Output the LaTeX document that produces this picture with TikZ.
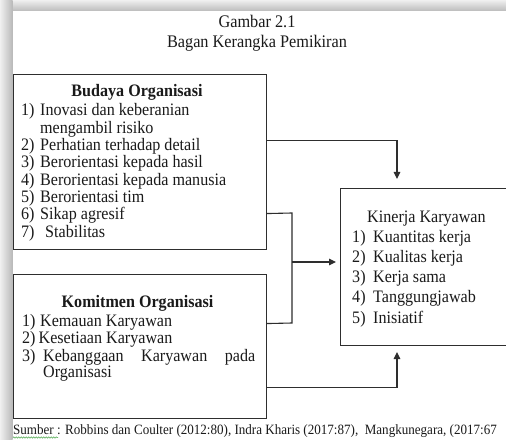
\documentclass[tikz,border=0pt]{standalone}
\usepackage{fontspec}
\setmainfont{Liberation Serif}[FakeStretch=0.92]
\usetikzlibrary{arrows.meta,decorations.pathmorphing}
\definecolor{linec}{HTML}{2E2E2E}
\definecolor{txtc}{HTML}{1A1A1A}
\definecolor{spell}{HTML}{6FB86F}
\begin{document}
\begin{tikzpicture}[x=1bp,y=-1bp,
  box/.style={draw=linec, line width=1.1bp, fill=white, inner sep=0, anchor=north west},
  lt/.style={anchor=base west, inner sep=0, text=txtc, font=\fontsize{17.5bp}{20bp}\selectfont},
  hd/.style={anchor=base, inner sep=0, text=txtc, font=\fontsize{17.5bp}{20bp}\selectfont\bfseries},
  ttl/.style={anchor=base, inner sep=0, text=txtc, font=\fontsize{17.7bp}{20bp}\selectfont},
  foot/.style={anchor=base west, inner sep=0, text=txtc, font=\fontsize{14.2bp}{16bp}\selectfont},
  conn/.style={draw=linec, line width=1.1bp},
  arr/.style={conn, -{Triangle[length=7bp,width=6.5bp]}}
]
\clip (0,0) rectangle (506,440);
% page shadow
\fill[white] (0,0) rectangle (506,440);
\shade[top color=gray!12, bottom color=gray!55] (0,0) rectangle (506,11.5);
\shade[left color=gray!12, right color=gray!55] (0,0) rectangle (12.5,440);
\fill[white] (12.5,11.5) rectangle (520,450);

% title
\node[ttl] (g1) at (257,28) {Gambar 2.1};
\node[ttl] (g2) at (257,48) {Bagan Kerangka Pemikiran};

% boxes
\node[box, minimum width=253.5bp, minimum height=175bp] (b1) at (12.5,74) {};
\node[box, minimum width=253.5bp, minimum height=144bp] (b2) at (12.5,274) {};
\node[box, minimum width=180bp, minimum height=157bp] (b3) at (340,188) {};

% box 1 text
\node[hd] (h1) at (137,97) {Budaya Organisasi};
\node[lt] (a1n) at (21,116) {1)};
\node[lt] (a1t) at (40,116) {Inovasi dan keberanian};
\node[lt] (a1u) at (40,133.3) {mengambil risiko};
\node[lt] (a2n) at (21,150.6) {2)};
\node[lt] (a2t) at (40,150.6) {Perhatian terhadap detail};
\node[lt] (a3n) at (21,167.9) {3)};
\node[lt] (a3t) at (40,167.9) {Berorientasi kepada hasil};
\node[lt] (a4n) at (21,185.2) {4)};
\node[lt] (a4t) at (40,185.2) {Berorientasi kepada manusia};
\node[lt] (a5n) at (21,202.5) {5)};
\node[lt] (a5t) at (40,202.5) {Berorientasi tim};
\node[lt] (a6n) at (21,219.8) {6)};
\node[lt] (a6t) at (40,219.8) {Sikap agresif};
\node[lt] (a7n) at (21,237.1) {7)};
\node[lt] (a7t) at (45,237.1) {Stabilitas};

% box 2 text
\node[hd] (h2) at (137.5,307) {Komitmen Organisasi};
\node[lt] (k1n) at (22,326) {1)};
\node[lt] (k1t) at (40,326) {Kemauan Karyawan};
\node[lt] (k2n) at (22,343.5) {2)};
\node[lt] (k2t) at (38.5,343.5) {Kesetiaan Karyawan};
\node[lt] (k3n) at (22,361) {3)};
\node[lt] (k3t) at (43,361) {\makebox[212bp][s]{Kebanggaan Karyawan pada}};
\node[lt] (k3u) at (43,377) {Organisasi};

% box 3 text
\node[lt] (h3) at (367,223) {Kinerja Karyawan};
\node[lt] (c1n) at (352,242.3) {1)};
\node[lt] (c1t) at (373,242.3) {Kuantitas kerja};
\node[lt] (c2n) at (352,262.3) {2)};
\node[lt] (c2t) at (373,262.3) {Kualitas kerja};
\node[lt] (c3n) at (352,282.3) {3)};
\node[lt] (c3t) at (373,282.3) {Kerja sama};
\node[lt] (c4n) at (352,302.3) {4)};
\node[lt] (c4t) at (373,302.3) {Tanggungjawab};
\node[lt] (c5n) at (352,323) {5)};
\node[lt] (c5t) at (373,323) {Inisiatif};

% connector points
\coordinate (t1) at (397,179);
\coordinate (j1) at (292,213);
\coordinate (j2) at (292,323);
\coordinate (jm) at (292,262);
\coordinate (t2) at (336,262);
\coordinate (t3) at (397,352);

% connectors
\draw[arr] ([yshift=21.5bp]b1.east) -| (t1);
\draw[conn] ([yshift=-51.5bp]b1.east) -- (j1) -- (j2) -- ([yshift=23bp]b2.east);
\draw[arr] (jm) -- (t2);
\draw[arr] ([yshift=-41bp]b2.east) -| (t3);

% footer
\node[foot] (src) at (13,434) {Sumber : Robbins dan Coulter (2012:80), Indra Kharis (2017:87),\ \ Mangkunegara, (2017:67};
\draw[spell, line width=0.7bp, decorate, decoration={snake, amplitude=0.6bp, segment length=2.5bp}] (13,437.5) -- (58,437.5);
\end{tikzpicture}
\end{document}
